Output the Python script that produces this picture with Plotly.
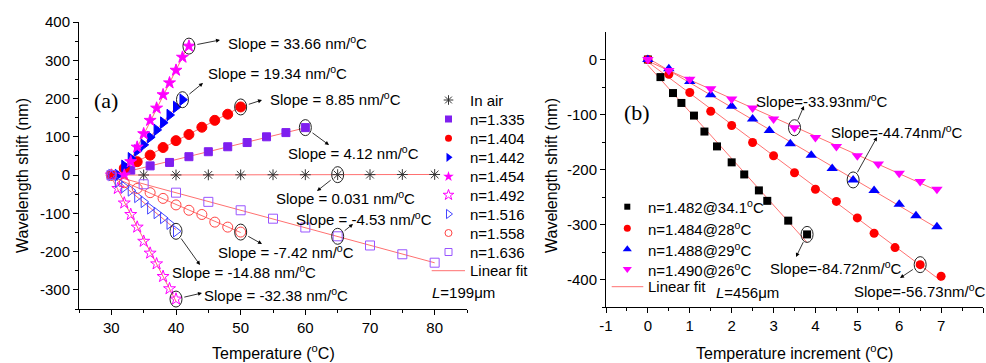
import numpy as np
import plotly.graph_objects as go

W, H = 986, 363
FONT = "Liberation Sans"

# ---------------- Panel (a): wavelength shift vs temperature ----------------
t_air = [30, 35, 40, 45, 50, 55, 60, 65, 70, 75, 80]
s_air = [0, 0.2, 0.3, 0.5, 0.6, 0.8, 0.9, 1.1, 1.2, 1.4, 1.5]
t_1335 = [30, 33, 36, 39, 42, 45, 48, 51, 54, 57, 60]
s_1335 = [0, 13, 24, 33, 48, 61, 74, 85, 100, 111, 124]
t_1404 = [30, 32, 34, 36, 38, 40, 42, 44, 46, 48, 50]
s_1404 = [0, 18, 35, 52, 72, 90, 106, 125, 143, 159, 178]
t_1442 = [31, 32, 33, 34, 35, 36, 37, 38, 39, 40, 41]
s_1442 = [0, 24, 44, 64, 79, 99, 118, 137, 157, 178, 197]
t_1454 = [32, 33, 34, 35, 36, 37, 38, 39, 40, 41, 42]
s_1454 = [0, 35, 73, 108, 143, 175, 210, 241, 274, 308, 337]
t_1492 = [30, 31, 32, 33, 34, 35, 36, 37, 38, 39, 40]
s_1492 = [0, -35, -73, -103, -136, -173, -204, -232, -265, -297, -324]
t_1516 = [30, 31, 32, 33, 34, 35, 36, 37, 38, 39, 40]
s_1516 = [0, -18, -31, -40, -57, -70, -87, -99, -112, -127, -147]
t_1558 = [30, 32, 34, 36, 38, 40, 42, 44, 46, 48, 50]
s_1558 = [0, -20, -35, -46, -61, -78, -92, -103, -123, -136, -149]
t_1636 = [30, 35, 40, 45, 50, 55, 60, 65, 70, 75, 80]
s_1636 = [0, -24, -46, -70, -92, -114, -137, -160, -184, -207, -229]

# ---------------- Panel (b): wavelength shift vs temperature increment ------
d_1482 = [0, 0.3, 0.6, 0.8, 1.1, 1.35, 1.65, 2.0, 2.3, 2.65, 2.85, 3.35, 3.8]
s_1482 = [0, -32, -61, -79, -102, -131, -158, -187, -209, -238, -257, -293, -318]
d_1484 = [0, 0.5, 1.0, 1.5, 2.0, 2.5, 3.0, 3.5, 4.0, 4.5, 5.0, 5.4, 5.9, 6.5, 7.0]
s_1484 = [0, -27, -60, -94, -120, -151, -175, -206, -236, -258, -288, -316, -342, -373, -394]
d_1488 = [0, 0.5, 1.0, 1.5, 2.0, 2.5, 2.9, 3.4, 3.9, 4.4, 4.9, 5.4, 6.0, 6.4, 6.9]
s_1488 = [0, -17, -40, -64, -85, -108, -129, -153, -174, -198, -219, -238, -263, -284, -304]
d_1490 = [0, 0.5, 1.0, 1.5, 2.0, 2.5, 3.0, 3.5, 4.0, 4.5, 5.0, 5.5, 6.0, 6.5, 6.9]
s_1490 = [0, -20, -36, -53, -72, -88, -108, -124, -142, -158, -175, -190, -207, -222, -236]

ticks_a_x = [30, 40, 50, 60, 70, 80]
ticks_a_y = [-300, -200, -100, 0, 100, 200, 300, 400]
ticks_b_x = [-1, 0, 1, 2, 3, 4, 5, 6, 7, 8]
ticks_b_y = [-400, -300, -200, -100, 0]

FIT_COLOR = "#ff7070"

fig = go.Figure()

series_a = [
    ("In air", t_air, s_air, "asterisk-open", "#333333", 9, 8),
    ("n=1.335", t_1335, s_1335, "square", "#7f1fef", 8, 7),
    ("n=1.404", t_1404, s_1404, "circle", "#ff0000", 10, 7),
    ("n=1.442", t_1442, s_1442, "triangle-right", "#0000ff", 10, 8),
    ("n=1.454", t_1454, s_1454, "star", "#ff00ff", 9, 8),
    ("n=1.492", t_1492, s_1492, "star-open", "#ff00ff", 9, 8),
    ("n=1.516", t_1516, s_1516, "triangle-right-open", "#4444ff", 10, 8),
    ("n=1.558", t_1558, s_1558, "circle-open", "#ff4444", 10, 7),
    ("n=1.636", t_1636, s_1636, "square-open", "#9955ff", 9, 7),
]
series_b = [
    ("n=1.482@34.1<sup>o</sup>C", d_1482, s_1482, "square", "#000000", 8, 6),
    ("n=1.484@28<sup>o</sup>C", d_1484, s_1484, "circle", "#ff0000", 9, 7),
    ("n=1.488@29<sup>o</sup>C", d_1488, s_1488, "triangle-up", "#0000ff", 10, 8),
    ("n=1.490@26<sup>o</sup>C", d_1490, s_1490, "triangle-down", "#ff00ff", 10, 8),
]


def add_fit(x, y, xa, ya):
    x = np.asarray(x, float)
    y = np.asarray(y, float)
    k, b = np.polyfit(x, y, 1)
    xs = np.array([x.min(), x.max()])
    fig.add_trace(go.Scatter(x=xs, y=k * xs + b, mode="lines", xaxis=xa, yaxis=ya,
                             line=dict(color=FIT_COLOR, width=1), showlegend=False,
                             hoverinfo="skip"))


for s in series_a:
    add_fit(s[1], s[2], "x", "y")
for s in series_b:
    add_fit(s[1], s[2], "x2", "y2")

for name, x, y, sym, col, sz, lsz in series_a:
    fig.add_trace(go.Scatter(x=x, y=y, mode="markers", name=name, xaxis="x", yaxis="y",
                             showlegend=False,
                             marker=dict(symbol=sym, color=col, size=sz,
                                         line=dict(color=col, width=1))))
for name, x, y, sym, col, sz, lsz in series_b:
    fig.add_trace(go.Scatter(x=x, y=y, mode="markers", name=name, xaxis="x2", yaxis="y2",
                             showlegend=False,
                             marker=dict(symbol=sym, color=col, size=sz,
                                         line=dict(width=0))))

# ---------- pixel helpers (layout positions only) ----------
AX0, AX1, AY0, AY1 = 79, 467, 22, 309
BX0, BX1, BY0, BY1 = 606, 983, 32, 307


def pa(px, py):
    return 25 + (px - AX0) / (AX1 - AX0) * 60, 400 - (py - AY0) / (AY1 - AY0) * 750


def pb(px, py):
    return -1 + (px - BX0) / (BX1 - BX0) * 9, 50 - (py - BY0) / (BY1 - BY0) * 500


annotations = []
shapes = []


def text_px(txt, px, py, size=15, family=FONT, angle=0, anchor="center"):
    annotations.append(dict(text=txt, x=px / W, y=1 - py / H, xref="paper", yref="paper",
                            showarrow=False, xanchor=anchor, yanchor="middle",
                            textangle=angle, font=dict(size=size, family=family, color="black")))


def callout(xr, yr, ptx, pty, head, helper):
    hx, hy = helper(*head)
    shapes.append(dict(type="circle", xref=xr, yref=yr, xsizemode="pixel", ysizemode="pixel",
                       xanchor=ptx, yanchor=pty, x0=-6, x1=6, y0=-8, y1=8,
                       line=dict(color="#222222", width=1)))
    annotations.append(dict(text="", x=hx, y=hy, xref=xr, yref=yr, ax=ptx, ay=pty,
                            axref=xr, ayref=yr, showarrow=True, arrowhead=2, arrowsize=1,
                            arrowwidth=0.8, arrowcolor="black", startstandoff=7))


# ---------- legends (drawn on an invisible full-page axis pair) ----------
def legend_block(items, mx, rows, line_x0, line_x1, line_y, tx):
    for (name, x, y, sym, col, sz, lsz), ry in zip(items, rows):
        fig.add_trace(go.Scatter(x=[mx], y=[ry], mode="markers", xaxis="x3", yaxis="y3",
                                 showlegend=False, hoverinfo="skip",
                                 marker=dict(symbol=sym, color=col, size=lsz,
                                             line=dict(color=col, width=1 if "open" in sym else 0))))
        text_px(name, tx, ry, anchor="left")
    fig.add_trace(go.Scatter(x=[line_x0, line_x1], y=[line_y, line_y], mode="lines",
                             xaxis="x3", yaxis="y3", showlegend=False, hoverinfo="skip",
                             line=dict(color=FIT_COLOR, width=1)))
    text_px("Linear fit", tx, line_y, anchor="left")


legend_block(series_a, 448.5, [100, 119, 138.3, 157.3, 176.5, 195, 214, 233, 252],
             431.7, 465, 270.7, 468)
legend_block(series_b, 627.3, [206.7, 228.3, 249.3, 269], 611.7, 643.3, 286.7, 646)

U = " nm/<sup>o</sup>C"
# panel (a) callouts
callout("x", "y", t_1454[-1], s_1454[-1], (220, 40), pa)
text_px("Slope = 33.66" + U, 297, 43)
callout("x", "y", t_1442[-1], s_1442[-1], (203, 83), pa)
text_px("Slope = 19.34" + U, 277, 72)
callout("x", "y", t_1404[-1], s_1404[-1], (262, 100), pa)
text_px("Slope = 8.85" + U, 335, 98)
callout("x", "y", t_1335[-1], s_1335[-1], (329, 145), pa)
text_px("Slope = 4.12" + U, 353, 152)
callout("x", "y", t_air[7], s_air[7], (317, 191), pa)
text_px("Slope = 0.031" + U, 345, 198)
callout("x", "y", t_1636[7], s_1636[7], (353, 224), pa)
text_px("Slope = -4.53" + U, 364, 218)
callout("x", "y", t_1558[-1], s_1558[-1], (262, 244), pa)
text_px("Slope = -7.42" + U, 286, 251)
callout("x", "y", t_1516[-1], s_1516[-1], (200, 265), pa)
text_px("Slope = -14.88" + U, 244, 271)
callout("x", "y", t_1492[-1], s_1492[-1], (202, 293), pa)
text_px("Slope = -32.38" + U, 276, 294)

# panel (b) callouts
U2 = "nm/<sup>o</sup>C"
callout("x2", "y2", d_1490[7], s_1490[7], (804, 106), pb)
text_px("Slope=-33.93" + U2, 822, 100)
callout("x2", "y2", d_1488[10], s_1488[10], (877, 137), pb)
text_px("Slope=-44.74" + U2, 897, 131)
callout("x2", "y2", d_1482[-1], s_1482[-1], (796, 257), pb)
text_px("Slope=-84.72" + U2, 836, 267)
callout("x2", "y2", d_1484[13], s_1484[13], (900, 278), pb)
text_px("Slope=-56.73" + U2, 920, 290)

text_px("(a)", 106, 100, size=22, family="Liberation Serif")
text_px("(b)", 637, 112, size=22, family="Liberation Serif")
text_px("<i>L</i>=199μm", 463, 292)
text_px("<i>L</i>=456μm", 747, 292)

text_px("Temperature (<sup>o</sup>C)", 273, 352, size=16)
text_px("Temperature increment (<sup>o</sup>C)", 794, 352, size=16)
text_px("Wavelength shift (nm)", 22, 176, size=16, angle=-90)
text_px("Wavelength shift (nm)", 551, 176, size=16, angle=-90)

axis_common = dict(showline=True, linecolor="black", linewidth=1, ticks="outside",
                   ticklen=5, tickcolor="black", showgrid=False, zeroline=False,
                   automargin=False,
                   tickfont=dict(size=15, family=FONT, color="black"), mirror=False)


def labels(vals):
    return [str(v) for v in vals]


fig.update_layout(
    template="none",
    width=W, height=H, margin=dict(l=0, r=0, t=0, b=0, pad=0),
    paper_bgcolor="white", plot_bgcolor="rgba(0,0,0,0)",
    showlegend=False,
    xaxis=dict(domain=[AX0 / W, AX1 / W], range=[25, 85], anchor="y", tickmode="array",
               tickvals=ticks_a_x, ticktext=labels(ticks_a_x),
               minor=dict(tickvals=[25, 35, 45, 55, 65, 75, 85], ticks="outside", ticklen=3,
                          tickcolor="black"), **axis_common),
    yaxis=dict(domain=[1 - AY1 / H, 1 - AY0 / H], range=[-350, 400], anchor="x",
               tickmode="array", tickvals=ticks_a_y, ticktext=labels(ticks_a_y),
               minor=dict(tickvals=[-350, -250, -150, -50, 50, 150, 250, 350], ticks="outside",
                          ticklen=3, tickcolor="black"), **axis_common),
    xaxis2=dict(domain=[BX0 / W, BX1 / W], range=[-1, 8], anchor="y2", tickmode="array",
                tickvals=ticks_b_x, ticktext=labels(ticks_b_x),
                minor=dict(tickvals=[v + 0.5 for v in ticks_b_x[:-1]], ticks="outside",
                           ticklen=3, tickcolor="black"), **axis_common),
    yaxis2=dict(domain=[1 - BY1 / H, 1 - BY0 / H], range=[-450, 50], anchor="x2",
                tickmode="array", tickvals=ticks_b_y, ticktext=labels(ticks_b_y),
                minor=dict(tickvals=[-450, -350, -250, -150, -50], ticks="outside",
                           ticklen=3, tickcolor="black"), **axis_common),
    xaxis3=dict(domain=[0, 1], range=[0, W], visible=False, fixedrange=True,
                anchor="y3", automargin=False, showgrid=False, zeroline=False),
    yaxis3=dict(domain=[0, 1], range=[H, 0], visible=False, fixedrange=True,
                anchor="x3", automargin=False, showgrid=False, zeroline=False),
    annotations=annotations, shapes=shapes,
)

fig.write_html("out.html", post_script="document.body.style.margin='0';",
               config={"displayModeBar": False})
